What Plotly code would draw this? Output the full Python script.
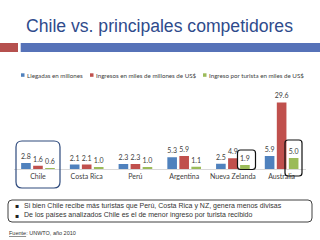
import plotly.graph_objects as go

W, H = 320, 240

categories = ["Chile", "Costa Rica", "Perú", "Argentina", "Nueva Zelanda", "Australia"]
series_names = ["Llegadas en millones", "Ingresos en miles de millones de US$", "Ingreso por turista en miles de US$"]
llegadas = [2.8, 2.1, 2.3, 5.3, 2.5, 5.9]
ingresos = [1.6, 2.1, 2.3, 5.9, 4.9, 29.6]
por_turista = [0.6, 1.0, 1.0, 1.1, 1.9, 5.0]
colors = ["#4F81BD", "#C0504D", "#9BBB59"]
bullets = [
    "Si bien Chile recibe más turistas que Perú, Costa Rica y NZ, genera menos divisas",
    "De los países analizados Chile es el de menor ingreso por turista recibido",
]
title_text = "Chile vs. principales competidores"

def px(x):
    return x / W

def py(y):
    return 1 - y / H

def rrect(x0, y0, x1, y1, r, color, width=1.2):
    rx, ry = r / W, r / H
    X0, X1 = px(x0), px(x1)
    Y0, Y1 = py(y0), py(y1)
    path = (f"M {X0+rx},{Y0} L {X1-rx},{Y0} Q {X1},{Y0} {X1},{Y0-ry} "
            f"L {X1},{Y1+ry} Q {X1},{Y1} {X1-rx},{Y1} "
            f"L {X0+rx},{Y1} Q {X0},{Y1} {X0},{Y1+ry} "
            f"L {X0},{Y0-ry} Q {X0},{Y0} {X0+rx},{Y0} Z")
    return dict(type="path", xref="paper", yref="paper", path=path,
                line=dict(color=color, width=width), fillcolor="rgba(0,0,0,0)", layer="above")

fig = go.Figure()
for name, vals, c in zip(series_names, [llegadas, ingresos, por_turista], colors):
    fig.add_trace(go.Bar(
        x=categories, y=vals, name=name, marker=dict(color=c, line=dict(width=0)),
        text=vals, texttemplate="%{y:.1f}", textposition="outside", cliponaxis=False,
        constraintext="none",
        textfont=dict(family="Lato", size=7, color="#404040"), showlegend=False,
    ))

shapes = [
    dict(type="rect", xref="paper", yref="paper", x0=0, x1=px(18), y0=py(52), y1=py(43),
         fillcolor="#B5504E", line=dict(width=0)),
    dict(type="rect", xref="paper", yref="paper", x0=px(20.7), x1=1, y0=py(52), y1=py(43),
         fillcolor="#5672B8", line=dict(width=0)),
    rrect(16, 141, 60, 188, 6, "#2E4A7D"),
    rrect(237.5, 150, 255.5, 169.5, 3, "#111111"),
    rrect(285, 140, 302, 176, 3, "#111111"),
    rrect(8, 200, 312, 222, 4, "#404040", 1),
]

leg_sq = [21, 90, 203]
leg_tx = [25, 94, 207]
annotations = []
for sx, tx, c, name in zip(leg_sq, leg_tx, colors, series_names):
    shapes.append(dict(type="rect", xref="paper", yref="paper", x0=px(sx), x1=px(sx + 3.5),
                       y0=py(76.8), y1=py(73.3), fillcolor=c, line=dict(width=0)))
    annotations.append(dict(x=px(tx), y=py(75), xref="paper", yref="paper", text=name,
                            showarrow=False, xanchor="left", yanchor="middle",
                            font=dict(family="Lato", size=6.2, color="#404040")))

annotations.append(dict(x=px(24), y=py(26.5), xref="paper", yref="paper", text=title_text,
                        showarrow=False, xanchor="left", yanchor="middle",
                        font=dict(family="Liberation Sans, Arial", size=17.6, color="#2F4B8C")))

for i, b in enumerate(bullets):
    yy = 205.8 + i * 9.5
    annotations.append(dict(x=px(13), y=py(yy), xref="paper", yref="paper", text="▪",
                            showarrow=False, xanchor="left", yanchor="middle",
                            font=dict(family="DejaVu Sans", size=6, color="#222222")))
    annotations.append(dict(x=px(22), y=py(yy), xref="paper", yref="paper", text=b,
                            showarrow=False, xanchor="left", yanchor="middle",
                            font=dict(family="Liberation Sans, Arial", size=7, color="#333333")))

annotations.append(dict(x=px(7), y=py(233), xref="paper", yref="paper",
                        text="<u>Fuente</u>: UNWTO, año 2010",
                        showarrow=False, xanchor="left", yanchor="middle",
                        font=dict(family="Liberation Sans, Arial", size=5.5, color="#333333")))

fig.update_layout(
    width=W, height=H, margin=dict(l=0, r=0, t=0, b=0),
    paper_bgcolor="white", plot_bgcolor="white",
    barmode="group", bargap=0.26, bargroupgap=0.2,
    showlegend=False,
    shapes=shapes, annotations=annotations,
    xaxis=dict(domain=[px(13.6), px(306)], showline=True, linecolor="#D9D9D9", linewidth=1,
               ticks="", showgrid=False, zeroline=False,
               tickfont=dict(family="Lato", size=7, color="#404040")),
    yaxis=dict(domain=[py(169.3), py(95)], range=[0, 32.88], visible=False,
               showgrid=False, zeroline=False),
)

fig.write_html("out.html")
